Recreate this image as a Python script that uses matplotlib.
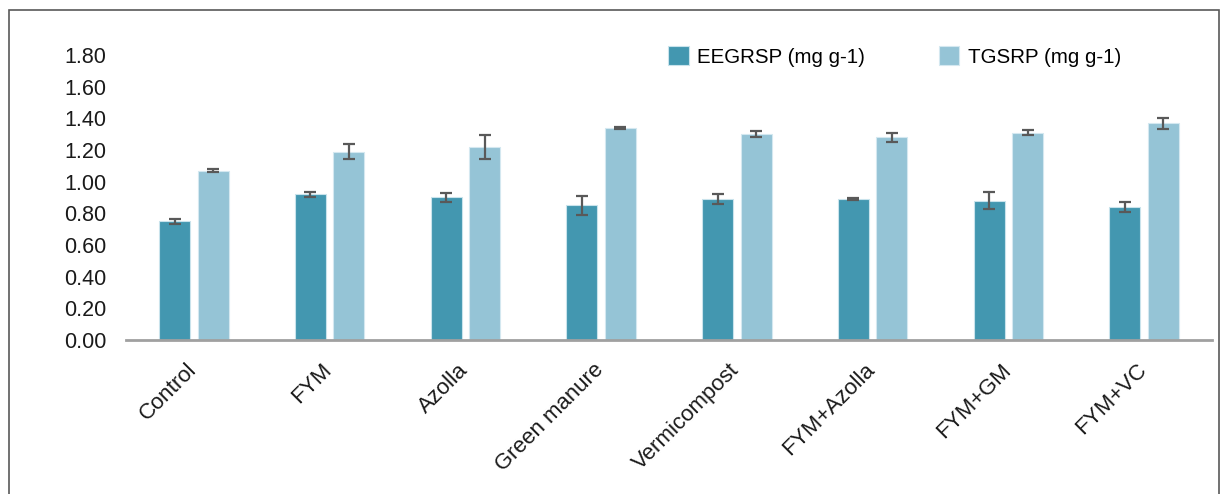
import numpy as np
import matplotlib.pyplot as plt
from matplotlib.patches import Rectangle
from matplotlib.transforms import ScaledTranslation

plt.rcParams['font.family'] = ['Liberation Sans', 'DejaVu Sans']

categories = ['Control', 'FYM', 'Azolla', 'Green manure', 'Vermicompost',
              'FYM+Azolla', 'FYM+GM', 'FYM+VC']
eegrsp = [0.75, 0.92, 0.90, 0.85, 0.89, 0.89, 0.88, 0.84]
eegrsp_err = [0.015, 0.015, 0.03, 0.06, 0.03, 0.007, 0.055, 0.034]
tgsrp = [1.07, 1.19, 1.22, 1.34, 1.30, 1.28, 1.31, 1.37]
tgsrp_err = [0.012, 0.05, 0.076, 0.005, 0.02, 0.027, 0.014, 0.035]
yticks = [0.0, 0.2, 0.4, 0.6, 0.8, 1.0, 1.2, 1.4, 1.6, 1.8]

fig = plt.figure(figsize=(12.24, 4.94), dpi=100)
ax = fig.add_axes([126 / 1224, 1 - 340 / 494, (1212 - 126) / 1224, (340 - 55) / 494])

x = np.arange(len(categories))
w = 0.228
off = 0.142
err_kw = dict(ecolor='#595959', elinewidth=1.6, capsize=4, capthick=1.6)
ax.bar(x - off, eegrsp, w, yerr=eegrsp_err, color='#4397B0', edgecolor='#C9E3EC',
       linewidth=0.8, error_kw=err_kw, label='EEGRSP (mg g-1)')
ax.bar(x + off, tgsrp, w, yerr=tgsrp_err, color='#95C4D6', edgecolor='#D4E8F0',
       linewidth=0.8, error_kw=err_kw, label='TGSRP (mg g-1)')

ax.set_xlim(-0.5, len(categories) - 0.5)
ax.set_ylim(0, 1.8)
ax.set_yticks(yticks)
ax.set_yticklabels(['%.2f' % v for v in yticks], fontsize=15.5, color='#1a1a1a')
ax.set_xticks(x)
ax.set_xticklabels(categories, rotation=45, ha='right', rotation_mode='anchor',
                   fontsize=16, color='#1a1a1a')
ax.tick_params(axis='y', length=0, pad=14)
ax.tick_params(axis='x', length=0, pad=14)
# nudge x labels a bit to the left
shift = ScaledTranslation(-8 / 100, 0, fig.dpi_scale_trans)
for lab in ax.get_xticklabels():
    lab.set_transform(lab.get_transform() + shift)

for s in ['top', 'right', 'left']:
    ax.spines[s].set_visible(False)
ax.spines['bottom'].set_color('#A0A0A0')
ax.spines['bottom'].set_linewidth(2)

ax.legend(loc='upper left', bbox_to_anchor=(658 / 1224, 1 - 36 / 494),
          bbox_transform=fig.transFigure, ncol=2, frameon=False, fontsize=14.8,
          handlelength=1.0, handleheight=1.0, handletextpad=0.4,
          columnspacing=3.6, borderpad=0)

# outer frame around the chart
fig.patches.append(Rectangle((9 / 1224, -0.05), (1219 - 9) / 1224, 1.05 - 10 / 494,
                             transform=fig.transFigure, fill=False,
                             edgecolor='#595959', linewidth=1.2))

fig.savefig('out.png', dpi=100)
